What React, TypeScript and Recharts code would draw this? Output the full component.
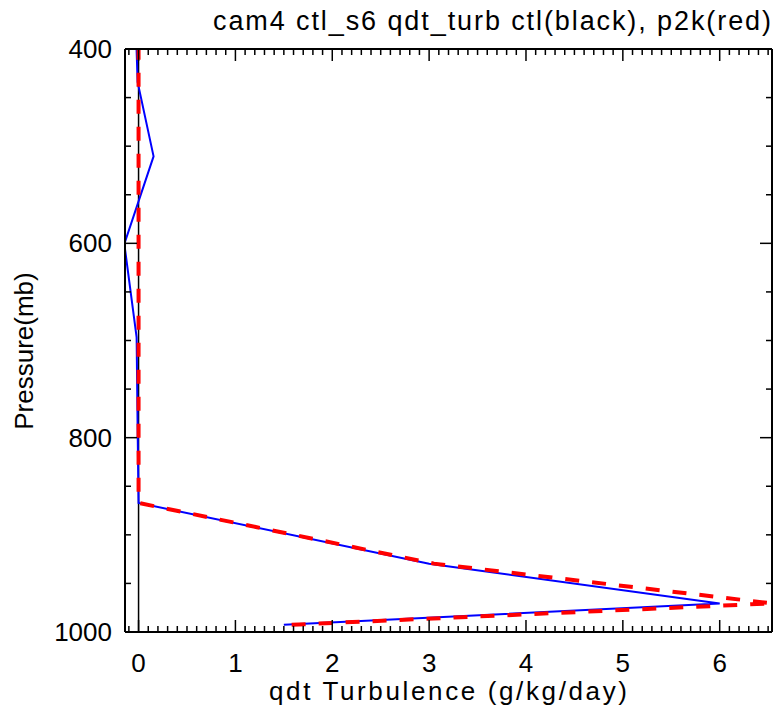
import React from 'react';
import { LineChart, Line, XAxis, YAxis, ReferenceLine } from 'recharts';

// CAM4 model levels (mb) and qdt turbulence tendencies (g/kg/day)
const pressure = [368.82, 433.9, 510.46, 600.52, 696.8, 787.7, 867.16, 929.65, 970.56, 992.56];
const ctlValues = [-0.03, -0.01, 0.155, -0.147, -0.02, -0.01, 0.0, 3.0, 6.0, 1.5];
const p2kValues = [0.0, 0.0, 0.0, 0.0, 0.0, 0.0, 0.0, 3.05, 6.54, 1.58];

const xMajorTicks = [0, 1, 2, 3, 4, 5, 6];
const yMajorTicks = [400, 600, 800, 1000];

const titleText = 'cam4 ctl_s6 qdt_turb ctl(black), p2k(red)';
const xTitle = 'qdt Turbulence (g/kg/day)';
const yTitle = 'Pressure(mb)';

const X_DOMAIN: [number, number] = [-0.14, 6.54];
const Y_DOMAIN: [number, number] = [400, 1000];

const data = pressure.map((p, i) => ({ p, ctl: ctlValues[i], p2k: p2kValues[i] }));

const xMinorTicks: number[] = [];
for (let k = -1; k <= 65; k++) xMinorTicks.push(k / 10);
const yMinorTicks: number[] = [];
for (let v = 400; v <= 1000; v += 50) yMinorTicks.push(v);

const FONT = '"Liberation Sans", Arial, sans-serif';
const FS = 26;

const near = (arr: number[], v: number) => arr.some((t) => Math.abs(t - v) < 1e-6);

const BottomTick = (props: any) => {
  const { x, y, payload } = props;
  const v = payload.value;
  const major = near(xMajorTicks, v);
  return (
    <g>
      <line x1={x} y1={y} x2={x} y2={y - (major ? 12 : 6)} stroke="#000" strokeWidth={1.5} />
      {major && (
        <text x={x} y={y + 40} textAnchor="middle" fontSize={FS} fontFamily={FONT} fill="#000">
          {Math.round(v)}
        </text>
      )}
    </g>
  );
};

const TopTick = (props: any) => {
  const { x, y, payload } = props;
  const major = near(xMajorTicks, payload.value);
  return <line x1={x} y1={y} x2={x} y2={y + (major ? 12 : 6)} stroke="#000" strokeWidth={1.5} />;
};

const LeftTick = (props: any) => {
  const { x, y, payload } = props;
  const v = payload.value;
  const major = near(yMajorTicks, v);
  return (
    <g>
      <line x1={x} y1={y} x2={x + (major ? 12 : 6)} y2={y} stroke="#000" strokeWidth={1.5} />
      {major && (
        <text x={x - 13} y={y + 9} textAnchor="end" fontSize={FS} fontFamily={FONT} fill="#000">
          {Math.round(v)}
        </text>
      )}
    </g>
  );
};

const RightTick = (props: any) => {
  const { x, y, payload } = props;
  const major = near(yMajorTicks, payload.value);
  return <line x1={x} y1={y} x2={x - (major ? 12 : 6)} y2={y} stroke="#000" strokeWidth={1.5} />;
};

export default function App() {
  const axisLine = { stroke: '#000', strokeWidth: 2 };
  return (
    <div style={{ position: 'absolute', left: 0, top: 0, width: 776, height: 710, background: '#fff' }}>
      <LineChart
        width={776}
        height={710}
        layout="vertical"
        data={data}
        margin={{ top: 0, right: 0, bottom: 0, left: 0 }}
      >
        <XAxis
          xAxisId="b"
          type="number"
          orientation="bottom"
          domain={X_DOMAIN}
          allowDataOverflow
          ticks={xMinorTicks}
          interval={0}
          tickSize={0}
          tickMargin={0}
          tickLine={false}
          tick={<BottomTick />}
          axisLine={axisLine}
          height={78}
        />
        <XAxis
          xAxisId="t"
          type="number"
          orientation="top"
          domain={X_DOMAIN}
          allowDataOverflow
          ticks={xMinorTicks}
          interval={0}
          tickSize={0}
          tickMargin={0}
          tickLine={false}
          tick={<TopTick />}
          axisLine={axisLine}
          height={49}
        />
        <YAxis
          yAxisId="l"
          type="number"
          dataKey="p"
          orientation="left"
          domain={Y_DOMAIN}
          allowDataOverflow
          ticks={yMinorTicks}
          interval={0}
          tickSize={0}
          tickMargin={0}
          tickLine={false}
          tick={<LeftTick />}
          axisLine={axisLine}
          width={125}
        />
        <YAxis
          yAxisId="r"
          type="number"
          dataKey="p"
          orientation="right"
          domain={Y_DOMAIN}
          allowDataOverflow
          ticks={yMinorTicks}
          interval={0}
          tickSize={0}
          tickMargin={0}
          tickLine={false}
          tick={<RightTick />}
          axisLine={axisLine}
          width={4}
        />
        <ReferenceLine xAxisId="b" yAxisId="l" x={0} stroke="#000" strokeWidth={1.5} ifOverflow="hidden" />
        <Line
          xAxisId="b"
          yAxisId="l"
          dataKey="ctl"
          type="linear"
          stroke="#0000ff"
          strokeWidth={2}
          dot={false}
          isAnimationActive={false}
        />
        <Line
          xAxisId="b"
          yAxisId="l"
          dataKey="p2k"
          type="linear"
          stroke="#ff0000"
          strokeWidth={4}
          strokeDasharray="14 13"
          dot={false}
          isAnimationActive={false}
        />
      </LineChart>
      <svg
        width={776}
        height={710}
        style={{ position: 'absolute', left: 0, top: 0, pointerEvents: 'none' }}
      >
        <text x={213} y={30} fontSize={27} fontFamily={FONT} fill="#000" textLength={558} lengthAdjust="spacing">
          {titleText}
        </text>
        <text
          x={448}
          y={700}
          fontSize={FS}
          fontFamily={FONT}
          fill="#000"
          textAnchor="middle"
          textLength={358}
          lengthAdjust="spacing"
        >
          {xTitle}
        </text>
        <text
          x={33}
          y={351}
          fontSize={FS}
          fontFamily={FONT}
          fill="#000"
          textAnchor="middle"
          transform="rotate(-90 33 351)"
        >
          {yTitle}
        </text>
      </svg>
    </div>
  );
}
